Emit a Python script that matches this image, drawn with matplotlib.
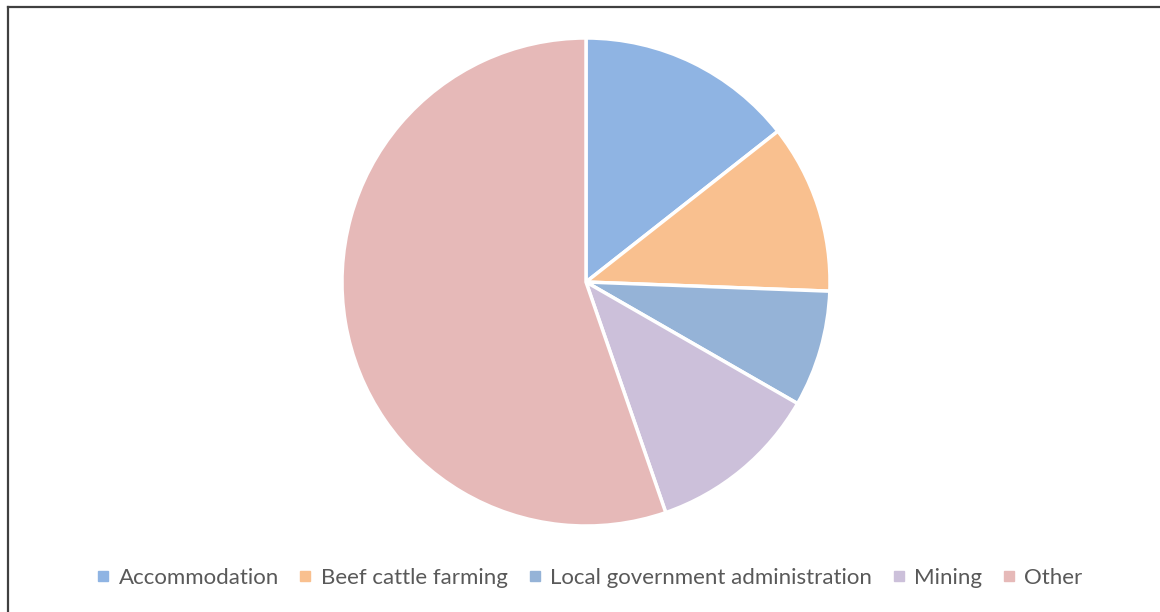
import matplotlib.pyplot as plt
from matplotlib.lines import Line2D

# Slice shares (%)
categories = ["Accommodation", "Beef cattle farming", "Local government administration", "Mining", "Other"]
shares = [14.4, 11.2, 7.7, 11.4, 55.3]
colors = ["#8FB4E3", "#F9C08F", "#95B3D7", "#CCC0DA", "#E6B9B8"]

plt.rcParams["font.family"] = ["Lato", "DejaVu Sans"]

W, H = 1160, 612
fig = plt.figure(figsize=(W / 100, H / 100), dpi=100)

# pie axes: centre ~ (586, 282), radius ~ 244 px
cx, cy, r = 586, 282, 244
ax = fig.add_axes([(cx - r) / W, 1 - (cy + r) / H, 2 * r / W, 2 * r / H])
ax.pie(shares, colors=colors, startangle=90, counterclock=False,
       wedgeprops=dict(edgecolor="white", linewidth=2.5))
ax.set_aspect("equal")
ax.set_xlim(-1, 1)
ax.set_ylim(-1, 1)
ax.axis("off")

# chart border (only top and left visible in the crop)
fig.add_artist(Line2D([7.5 / W, 7.5 / W], [0, 1 - 6.5 / H], transform=fig.transFigure,
                      color="#404040", linewidth=1.6))
fig.add_artist(Line2D([7.5 / W, 1], [1 - 6.5 / H, 1 - 6.5 / H], transform=fig.transFigure,
                      color="#404040", linewidth=1.6))

handles = [Line2D([], [], marker="s", linestyle="none", markersize=6.5,
                  markerfacecolor=c, markeredgecolor=c) for c in colors]
fig.legend(handles, categories, loc="center", bbox_to_anchor=(590 / W, 1 - 578 / H),
           ncol=5, frameon=False, fontsize=16, labelcolor="#595959",
           handlelength=0.5, handletextpad=0.45, columnspacing=0.95)

fig.savefig("out.png", dpi=100, facecolor="white")
